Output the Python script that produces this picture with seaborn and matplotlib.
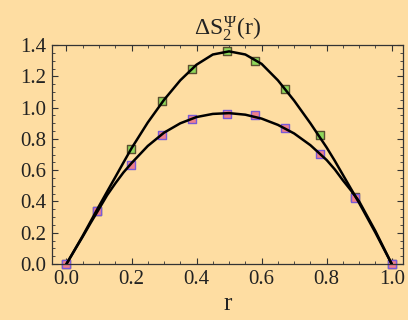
import matplotlib
matplotlib.use("Agg")
import matplotlib.pyplot as plt
import seaborn as sns
import pandas as pd
from matplotlib.ticker import MultipleLocator

# ---- data ----
r_pts = [0.0, 0.093, 0.198, 0.293, 0.385, 0.493, 0.58, 0.672, 0.778, 0.888, 1.0]
green_pts = [0.0, 0.336, 0.737, 1.045, 1.25, 1.36, 1.30, 1.12, 0.822, 0.43, 0.0]
pink_pts = [0.0, 0.336, 0.636, 0.828, 0.929, 0.961, 0.95, 0.873, 0.705, 0.422, 0.0]

r_curve = [0.0, 0.025, 0.05, 0.075, 0.10, 0.125, 0.15, 0.175, 0.20, 0.25, 0.30, 0.35,
           0.40, 0.45, 0.50, 0.55, 0.60, 0.65, 0.70, 0.75, 0.80, 0.825, 0.85,
           0.875, 0.90, 0.925, 0.95, 0.975, 1.0]
upper_curve = [0.0, 0.09, 0.18, 0.275, 0.37, 0.463, 0.555, 0.648, 0.74, 0.905, 1.05,
               1.175, 1.275, 1.34, 1.36, 1.34, 1.28, 1.175, 1.045, 0.90, 0.745,
               0.66, 0.57, 0.48, 0.39, 0.295, 0.20, 0.10, 0.0]
lower_curve = [0.0, 0.088, 0.175, 0.265, 0.352, 0.44, 0.515, 0.585, 0.645, 0.755, 0.84,
               0.90, 0.94, 0.96, 0.965, 0.955, 0.93, 0.89, 0.835, 0.76, 0.665,
               0.605, 0.535, 0.47, 0.40, 0.305, 0.21, 0.105, 0.0]

title_text = r"$\Delta S_2^{\Psi}(\mathrm{r})$"
xlabel_text = "r"

bg = "#fedda2"

sns.set_theme(style="ticks")
plt.rcParams["font.family"] = ["Liberation Serif", "DejaVu Serif"]
plt.rcParams["mathtext.fontset"] = "custom"
plt.rcParams["mathtext.rm"] = "Liberation Serif"
plt.rcParams["mathtext.it"] = "Liberation Serif"
plt.rcParams["mathtext.bf"] = "Liberation Serif:bold"

fig = plt.figure(figsize=(4.08, 3.2), dpi=100, facecolor=bg)
ax = fig.add_axes([0.127, 0.175, 0.861, 0.684])
ax.set_facecolor(bg)

curves = pd.DataFrame({"r": r_curve * 2,
                       "v": upper_curve + lower_curve,
                       "s": ["up"] * len(r_curve) + ["low"] * len(r_curve)})

sns.scatterplot(x=r_pts, y=green_pts, marker="s", s=40, color="#8fd85a",
                edgecolor="#5a5030", linewidth=1.0, ax=ax, clip_on=False, zorder=2)
sns.scatterplot(x=r_pts, y=pink_pts, marker="s", s=40, color="#f0808a",
                edgecolor="#7a5ad8", linewidth=1.0, ax=ax, clip_on=False, zorder=2)
sns.lineplot(data=curves, x="r", y="v", units="s", estimator=None,
             color="black", linewidth=1.8, ax=ax, sort=False, zorder=4)

ax.set_xlim(-0.045, 1.035)
ax.set_ylim(0, 1.4)
ax.xaxis.set_major_locator(MultipleLocator(0.2))
ax.xaxis.set_minor_locator(MultipleLocator(0.05))
ax.yaxis.set_major_locator(MultipleLocator(0.2))
ax.yaxis.set_minor_locator(MultipleLocator(0.05))
ax.xaxis.set_major_formatter(matplotlib.ticker.FormatStrFormatter("%.1f"))
ax.yaxis.set_major_formatter(matplotlib.ticker.FormatStrFormatter("%.1f"))
ax.tick_params(which="both", direction="in", top=True, right=True, color="#333333")
ax.tick_params(which="major", length=4, width=0.8, labelsize=15, pad=4, labelcolor="#222222")
ax.tick_params(which="minor", length=2, width=0.6)
for sp in ax.spines.values():
    sp.set_color("#333333")
    sp.set_linewidth(0.9)

ax.set_xlabel(xlabel_text, fontsize=18, labelpad=3, color="#222222")
ax.set_ylabel("")
ax.set_title(title_text, fontsize=17, pad=7, color="#222222")

fig.savefig("out.png", dpi=100, facecolor=bg)
